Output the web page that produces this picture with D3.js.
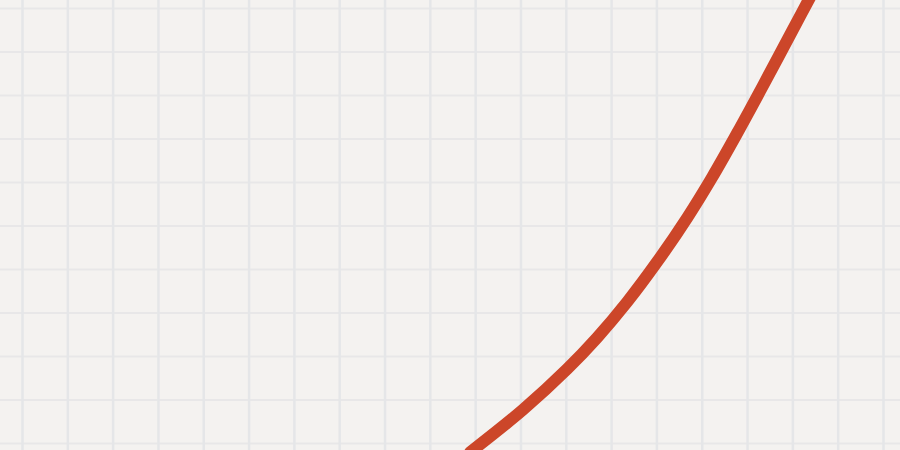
<!DOCTYPE html>
<html>
<head>
<meta charset="utf-8">
<script src="https://cdn.jsdelivr.net/npm/d3@7"></script>
<style>
  html, body { margin: 0; padding: 0; background: #f4f2f0; }
  svg { display: block; }
</style>
</head>
<body>
<svg></svg>
<script>
let width = 900,
  height = 450;

// curve, in grid units
const xs = [9.89, 11.06, 12.03, 12.69, 13.36, 14.02, 14.68, 15.23, 15.78, 16.36, 17.02, 17.44];
const ys = [-0.21, 0.77, 1.70, 2.42, 3.25, 4.17, 5.18, 6.11, 7.12, 8.23, 9.52, 10.34];

// grid lines
const xTicks = d3.range(0, 20);
const yTicks = d3.range(0, 11);

let svg = d3.select("svg")
  .attr("width", width)
  .attr("height", height)
  .attr("viewBox", "0 0 " + width + " " + height);

svg.append("rect")
  .attr("width", width)
  .attr("height", height)
  .attr("fill", "#f4f2f0");

let x = d3.scaleLinear().domain([0, 19]).range([22, 883]);
let y = d3.scaleLinear().domain([0, 10]).range([443, 8]);

// horizontal grid
svg.append("g")
  .attr("class", "ygrid")
  .call(d3.axisLeft(y).tickValues(yTicks).tickSize(-width).tickFormat(""))
  .call(g => g.select(".domain").remove())
  .call(g => g.selectAll("line")
    .attr("stroke", "#e8e7e8")
    .attr("stroke-width", 2));

// vertical grid
svg.append("g")
  .attr("class", "xgrid")
  .attr("transform", "translate(0," + height + ")")
  .call(d3.axisBottom(x).tickValues(xTicks).tickSize(-height).tickFormat(""))
  .call(g => g.select(".domain").remove())
  .call(g => g.selectAll("line")
    .attr("stroke", "#e5e6e8")
    .attr("stroke-width", 2.5));

let line = d3.line()
  .x((d, i) => x(xs[i]))
  .y((d, i) => y(ys[i]))
  .curve(d3.curveCatmullRom);

svg.append("path")
  .datum(xs)
  .attr("d", line)
  .attr("fill", "none")
  .attr("stroke", "#cc4629")
  .attr("stroke-width", 12)
  .attr("stroke-linecap", "round");
</script>
</body>
</html>
